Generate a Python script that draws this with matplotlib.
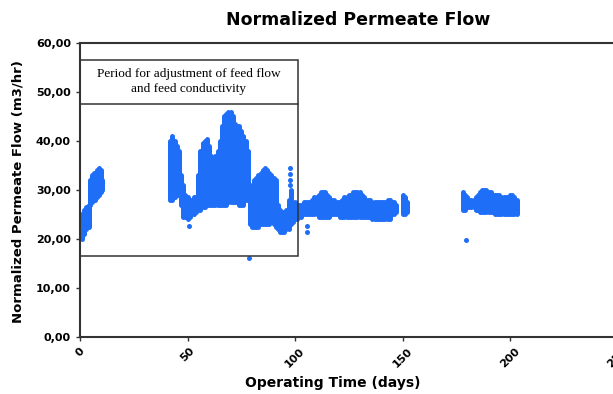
import matplotlib
matplotlib.use('Agg')
import matplotlib.pyplot as plt
from matplotlib.patches import Rectangle

BLUE = '#1f6ef7'

# daily spread of the readings (day, lowest, highest)
start_days = [0, 1, 2, 3, 4, 4.8, 5.6, 6.4, 7.2, 8, 8.8, 9.6, 10.4]
start_low = [20.3, 20, 21, 22, 22.5, 27, 27.5, 28, 28, 28.5, 29, 29.5, 30]
start_high = [24, 25, 26, 26.5, 27, 32, 33, 33.5, 33, 34, 34.5, 34, 32]

adjust_days = [42, 43, 44, 45, 46, 47, 48, 49, 50, 51, 52, 53, 54,
               55, 56, 57, 58, 59, 60, 61, 62, 63, 64, 65, 66, 67, 68, 69,
               70, 71, 72, 73, 74, 75, 76, 77, 78,
               79, 80, 81, 82, 83, 84, 85, 86, 87, 88, 89, 90, 91,
               92, 93, 94, 95, 96, 97, 98, 99]
adjust_low = [28, 28, 28.5, 29, 29, 27, 24.5, 24.5, 24, 24.5, 25, 25, 25.5,
              26, 26, 26.5, 26.5, 27, 27, 27, 27, 27, 27, 27, 27, 27, 27, 27.5,
              27.5, 27.5, 27.5, 27.5, 27, 27, 27, 28, 28,
              23, 22.5, 22.5, 22.5, 22.5, 23, 23, 23, 23, 23, 23.5, 23, 22.5,
              22, 21.5, 21.5, 21.5, 22, 22, 23, 23.5]
adjust_high = [40, 41, 40, 39, 38, 33, 31, 29, 28.5, 28, 28, 28.5, 28.5,
               33, 38, 39.5, 40, 40.5, 39, 37, 36, 37, 38, 40, 43, 45, 45.5, 46,
               46, 45, 43.5, 43, 43, 42, 41, 40, 38,
               30, 31, 32, 32.5, 33, 33.5, 34, 34.5, 34, 33.5, 33, 32.5, 32,
               27, 26, 25.5, 25.5, 26, 28, 30, 27]

steady_days = list(range(100, 148)) + [150, 151, 152]
steady_low = [24, 24, 24.5, 24.5, 25, 25, 25, 25, 25, 25, 25, 24.5, 24.5, 24.5,
              24.5, 24.5, 24.5, 25, 25, 25, 25, 24.5, 24.5, 24.5, 24.5, 24.5,
              24.5, 24.5, 24.5, 24.5, 24.5, 24.5, 24.5, 24.5, 24.5, 24.5, 24,
              24, 24, 24, 24, 24, 24, 24, 24, 25, 25, 25.5,
              25, 25, 25.5]
steady_high = [27.5, 27, 27, 27, 27.5, 27.5, 27.5, 27.5, 28, 28.5, 28.5, 29,
               29.5, 29.5, 29.5, 29, 28.5, 28, 28, 27.5, 27.5, 27.5, 28, 28.5,
               28.5, 29, 29, 29.5, 29.5, 29.5, 29.5, 29, 28.5, 28, 28, 28, 27.5,
               27.5, 27.5, 27.5, 27.5, 27.5, 27.5, 28, 28, 27.5, 27.5, 27,
               29, 28.5, 27.5]

late_days = list(range(178, 204))
late_low = [26, 26, 26.5, 26.5, 26.5, 26.5, 26, 26, 25.5, 25.5, 25.5, 25.5,
            25.5, 25.5, 25.5, 25, 25, 25, 25, 25, 25, 25, 25, 25, 25, 25]
late_high = [29.5, 29, 28.5, 28, 28, 28, 28.5, 29, 29.5, 30, 30, 30, 29.5,
             29.5, 29, 29, 29, 29, 28.5, 28.5, 28.5, 28.5, 29, 29, 28.5, 28]

# single readings away from the main clouds
spot_days = [97.5, 97.5, 97.5, 97.5, 50.7, 78.6, 105.5, 105.5, 179.6]
spot_flow = [31, 32, 33.2, 34.5, 22.7, 16.1, 21.5, 22.6, 19.8]

def fmt(v, pos):
	return ('%.2f' % v).replace('.', ',')

fig = plt.figure(figsize=(6.13, 3.94), dpi=100)
ax = fig.add_axes([0.1305, 0.1447, 0.877, 0.7462])

for d, lo, hi in [(start_days, start_low, start_high),
                  (adjust_days, adjust_low, adjust_high),
                  (steady_days, steady_low, steady_high),
                  (late_days, late_low, late_high)]:
	lc = ax.vlines(d, lo, hi, colors=BLUE, lw=3.6)
	lc.set_capstyle('round')

ax.scatter(spot_days, spot_flow, s=13, color=BLUE, lw=0)

# box marking the adjustment period
ax.add_patch(Rectangle((0, 16.5), 101.5, 40.1, fill=False, ec='#333333', lw=1.1, zorder=3))
ax.plot([0, 101.5], [47.6, 47.6], color='#333333', lw=1.1, zorder=3)
ax.text(50.5, 52.2, 'Period for adjustment of feed flow\nand feed conductivity',
	ha='center', va='center', family='Liberation Serif', fontsize=9.5, linespacing=1.3)

ax.set_xlim(0, 250)
ax.set_ylim(0, 60)
ax.set_xticks([0, 50, 100, 150, 200, 250])
ax.set_yticks([0, 10, 20, 30, 40, 50, 60])
ax.yaxis.set_major_formatter(plt.FuncFormatter(fmt))
for lab in ax.get_xticklabels():
	lab.set_rotation(45)
	lab.set_fontweight('bold')
for lab in ax.get_yticklabels():
	lab.set_fontweight('bold')
ax.tick_params(labelsize=8, length=3, width=1, color='#333333')
for s in ax.spines.values():
	s.set_linewidth(1.5)
	s.set_color('#333333')

fig.text(0.584, 0.948, 'Normalized Permeate Flow', ha='center', va='center',
	fontsize=12.5, fontweight='bold')
fig.text(0.543, 0.027, 'Operating Time (days)', ha='center', va='center',
	fontsize=10, fontweight='bold')
fig.text(0.03, 0.515, 'Normalized Permeate Flow (m3/hr)', ha='center', va='center',
	rotation=90, fontsize=9.5, fontweight='bold')

fig.savefig('out.png', dpi=100)
